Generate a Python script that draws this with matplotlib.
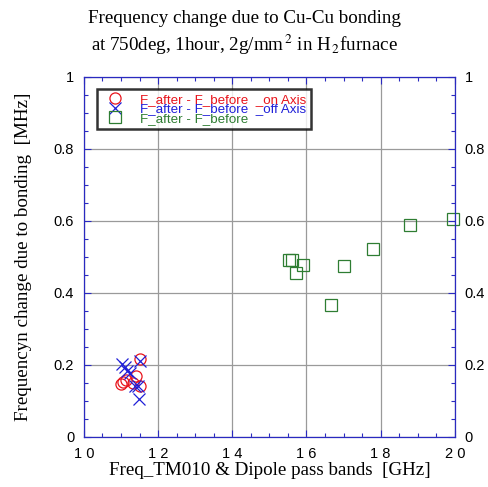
# frequency change after Cu-Cu bonding, re-plot of the scan

import matplotlib
matplotlib.use("Agg")
import matplotlib.pyplot as plt
from matplotlib.ticker import MultipleLocator

on_axis_freq = [11.505, 11.06, 10.99, 11.13, 11.40, 11.31, 11.505]
on_axis_df = [0.216, 0.151, 0.147, 0.158, 0.169, 0.149, 0.140]

off_axis_freq = [11.02, 11.10, 11.17, 11.24, 11.47, 11.49, 11.505, 11.37]
off_axis_df = [0.203, 0.195, 0.184, 0.177, 0.140, 0.105, 0.212, 0.142]

dipole_freq = [15.53, 15.61, 15.73, 15.91, 16.66, 17.02, 17.79, 18.79, 19.95]
dipole_df = [0.490, 0.492, 0.456, 0.478, 0.367, 0.475, 0.522, 0.589, 0.606]

labels = ["F_after - F_before  _on Axis", "F_after - F_before  _off Axis", "F_after - F_before"]
x_ticks = [10, 12, 14, 16, 18, 20]
x_tick_labels = ["1 0", "1 2", "1 4", "1 6", "1 8", "2 0"]
y_ticks = [0, 0.2, 0.4, 0.6, 0.8, 1.0]
y_tick_labels = ["0", "0.2", "0.4", "0.6", "0.8", "1"]

plt.rcParams['mathtext.fontset'] = 'stix'
serif = 'Liberation Serif'
sans = 'Liberation Sans'
axis_blue = '#2a2ac0'
fs_serif = 13.7

fig = plt.figure(figsize=(4.88, 4.87), dpi=100)
ax = fig.add_axes([0.172, 0.103, 0.760, 0.739])

ax.plot(on_axis_freq, on_axis_df, 'o', ms=8, mfc='none', mec='#e8141c', mew=0.9, label=labels[0])
ax.plot(off_axis_freq, off_axis_df, 'x', ms=8, mec='#1f1fd8', mew=0.9, label=labels[1])
ax.plot(dipole_freq, dipole_df, 's', ms=8, mfc='none', mec='#2e7d32', mew=0.9, label=labels[2], clip_on=False)

ax.set_xlim(10, 20)
ax.set_ylim(0, 1)
ax.set_xticks(x_ticks)
ax.set_xticklabels(x_tick_labels, fontfamily=sans, fontsize=10.5)
ax.set_yticks(y_ticks)
ax.set_yticklabels(y_tick_labels, fontfamily=sans, fontsize=10.5)
ax.xaxis.set_minor_locator(MultipleLocator(0.5))
ax.yaxis.set_minor_locator(MultipleLocator(0.05))
ax.grid(True, which='major', color='#9a9a9a', linewidth=0.9)

ax.tick_params(which='both', direction='in', color=axis_blue, top=True, right=True,
               labelright=True, width=0.8)
ax.tick_params(which='major', length=5, pad=7)
ax.tick_params(which='minor', length=3)
for s in ax.spines.values():
  s.set_color(axis_blue)
  s.set_linewidth(0.9)

ax.set_xlabel("Freq_TM010 & Dipole pass bands  [GHz]", fontfamily=serif, fontsize=fs_serif, labelpad=1)
ax.set_ylabel("Frequencyn change due to bonding  [MHz]", fontfamily=serif, fontsize=fs_serif, labelpad=16)

fig.text(0.5, 0.962, "Frequency change due to Cu-Cu bonding", ha='center', va='center',
         fontfamily=serif, fontsize=fs_serif)
fig.text(0.5, 0.907, r"at 750deg, 1hour, 2g/mm$^{\,2}$ in H$_{\,2}$furnace", ha='center', va='center',
         fontfamily=serif, fontsize=fs_serif)

leg = ax.legend(loc='upper left', bbox_to_anchor=(0.035, 0.967), prop={'family': sans, 'size': 9.6},
                frameon=True, fancybox=False, shadow=False, labelspacing=-0.22,
                handletextpad=0.9, borderpad=0.35, handlelength=2.0, borderaxespad=0)
leg.get_frame().set_edgecolor('black')
leg.get_frame().set_linewidth(1.8)
for txt, col in zip(leg.get_texts(), ['#e8141c', '#1f1fd8', '#2e7d32']):
  txt.set_color(col)

fig.savefig('out.png', dpi=100)
